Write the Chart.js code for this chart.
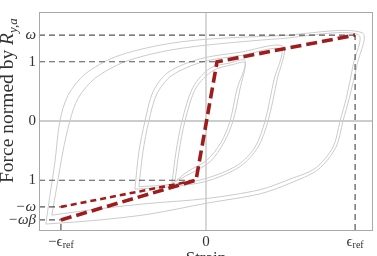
<!DOCTYPE html>
<html>
<head>
<meta charset="utf-8">
<script src="https://cdn.jsdelivr.net/npm/chart.js@4/dist/chart.umd.min.js"></script>
<style>
    html, body { margin: 0; padding: 0; background: #fff; }
    #wrap { width: 377px; height: 256px; position: relative; }
</style>
</head>
<body>
<div id="wrap"><canvas id="hysteresisChart"></canvas></div>
<script>
// Các giá trị đặc trưng (strain đo theo eps_ref, lực chuẩn hoá theo R_y,a)
const OMEGA = 1.45;
const OMEGA_BETA = 1.67;
const EPS_NEG = -0.973;
const EPS_POS = 1.0;
const X_MIN = -1.12, X_MAX = 1.12;
const Y_MIN = -1.84, Y_MAX = 1.84;

const yTickValues = [OMEGA, 1, 0, -1, -OMEGA, -OMEGA_BETA];
const yTickLabels = ['ω', '1', '0', '1', '−ω', '−ωβ'];
const xTickValues = [EPS_NEG, 0, EPS_POS];
const xTickLabels = [['−ϵ', 'ref'], ['0', ''], ['ϵ', 'ref']];

// Vòng trễ đo được
const loopOuterX = [-1.074, -1.047, -1.013, -0.980, -0.926, -0.812, -0.611, -0.309, 0, 0.497, 1.047,
    1.013, 0.960, 0.919, 0.872, 0.752, 0.564, 0.362, 0, -0.376, -0.711, -1.074];
const loopOuterY = [-1.74, -1.26, -0.69, 0, 0.43, 0.79, 1.08, 1.28, 1.38, 1.44, 1.49,
    0.95, 0.38, 0, -0.44, -0.82, -1.05, -1.23, -1.39, -1.57, -1.67, -1.74];

const loopLargeX = [-1.034, -1.0, -0.960, -0.913, -0.859, -0.745, -0.544, -0.275, 0, 0.497, 1.020,
    0.987, 0.940, 0.899, 0.852, 0.732, 0.564, 0.362, 0, -0.376, -0.711, -1.034];
const loopLargeY = [-1.59, -1.10, -0.52, 0, 0.38, 0.72, 1.00, 1.18, 1.28, 1.39, 1.46,
    0.95, 0.38, 0, -0.44, -0.80, -0.98, -1.16, -1.31, -1.39, -1.48, -1.59];

const loopMidX = [-0.477, -0.450, -0.409, -0.356, -0.255, -0.040, 0.228, 0.517,
    0.477, 0.416, 0.349, 0.228, 0, -0.242, -0.477];
const loopMidY = [-1.15, -0.52, 0, 0.49, 0.82, 1.05, 1.16, 1.26,
    0.70, 0, -0.44, -0.77, -1.02, -1.11, -1.15];

const loopMid2X = [-0.450, -0.423, -0.383, -0.329, -0.228, -0.020, 0.242, 0.503,
    0.456, 0.396, 0.329, 0.215, 0, -0.228, -0.450];
const loopMid2Y = [-1.11, -0.52, 0, 0.46, 0.77, 1.00, 1.11, 1.21,
    0.70, 0, -0.44, -0.74, -0.97, -1.07, -1.11];

const loopSmallX = [-0.228, -0.201, -0.161, -0.087, 0.027, 0.161, 0.262,
    0.228, 0.181, 0.121, 0.027, -0.107, -0.228];
const loopSmallY = [-1.05, -0.52, 0, 0.57, 0.89, 0.98, 1.02,
    0.54, 0, -0.36, -0.69, -0.89, -1.05];

const loopSmall2X = [-0.208, -0.181, -0.141, -0.067, 0.047, 0.174, 0.262,
    0.208, 0.161, 0.101, 0.007, -0.121, -0.208];
const loopSmall2Y = [-1.02, -0.52, 0, 0.56, 0.85, 0.95, 0.98,
    0.54, 0, -0.36, -0.66, -0.85, -1.02];

// Mô hình đơn giản hoá (đường đỏ)
const modelX = [EPS_NEG, -0.067, 0.074, EPS_POS];
const modelY = [-OMEGA_BETA, -1, 1, OMEGA];
const modelAltX = [EPS_NEG, -0.067];
const modelAltY = [-OMEGA, -1];

// Đường gióng nét đứt: [x1, y1, x2, y2]
const guideLines = [
    [X_MIN, OMEGA, EPS_POS, OMEGA],
    [X_MIN, 1, 0.074, 1],
    [X_MIN, -1, -0.067, -1],
    [X_MIN, -OMEGA, EPS_NEG, -OMEGA],
    [X_MIN, -OMEGA_BETA, EPS_NEG, -OMEGA_BETA],
    [EPS_NEG, Y_MIN, EPS_NEG, -OMEGA_BETA],
    [EPS_POS, Y_MIN, EPS_POS, OMEGA]
];

const zip = (xs, ys) => xs.map((x, i) => ({ x: x, y: ys[i] }));

function loopSet(xs, ys) {
    return {
        data: zip(xs, ys),
        showLine: true,
        borderColor: '#cbcbcb',
        borderWidth: 1,
        pointRadius: 0,
        tension: 0.3,
        order: 3
    };
}

const datasets = [];

// trục 0
datasets.push({
    data: [{ x: X_MIN, y: 0 }, { x: X_MAX, y: 0 }],
    showLine: true, borderColor: '#9a9a9a', borderWidth: 1, pointRadius: 0, order: 4
});
datasets.push({
    data: [{ x: 0, y: Y_MIN }, { x: 0, y: Y_MAX }],
    showLine: true, borderColor: '#b0b0b0', borderWidth: 1, pointRadius: 0, order: 4
});

datasets.push(loopSet(loopOuterX, loopOuterY));
datasets.push(loopSet(loopLargeX, loopLargeY));
datasets.push(loopSet(loopMidX, loopMidY));
datasets.push(loopSet(loopMid2X, loopMid2Y));
datasets.push(loopSet(loopSmallX, loopSmallY));
datasets.push(loopSet(loopSmall2X, loopSmall2Y));

guideLines.forEach(g => {
    datasets.push({
        data: [{ x: g[0], y: g[1] }, { x: g[2], y: g[3] }],
        showLine: true,
        borderColor: '#555',
        borderWidth: 1.2,
        borderDash: [6, 4],
        pointRadius: 0,
        order: 2
    });
});

datasets.push({
    data: zip(modelAltX, modelAltY),
    showLine: true,
    borderColor: '#9d1c1c',
    borderWidth: 2.6,
    borderDash: [6, 4],
    pointRadius: 0,
    order: 1
});
datasets.push({
    data: zip(modelX, modelY),
    showLine: true,
    borderColor: '#9d1c1c',
    borderWidth: 3.6,
    borderDash: [11, 5],
    pointRadius: 0,
    order: 0
});

const SERIF = "'Liberation Serif', 'DejaVu Serif', serif";

const decorPlugin = {
    id: 'decor',
    afterDraw(chart) {
        const ctx = chart.ctx;
        const area = chart.chartArea;
        const xs = chart.scales.x;
        ctx.save();
        // khung
        ctx.strokeStyle = '#a8a8a8';
        ctx.lineWidth = 1;
        ctx.strokeRect(area.left + 0.5, area.top + 0.5, area.right - area.left - 1, area.bottom - area.top);

        // nhãn trục x
        ctx.fillStyle = '#333';
        ctx.textBaseline = 'alphabetic';
        xTickValues.forEach((v, i) => {
            const px = xs.getPixelForValue(v);
            const main = xTickLabels[i][0], sub = xTickLabels[i][1];
            ctx.font = '15px ' + SERIF;
            const w1 = ctx.measureText(main).width;
            ctx.font = '10px ' + SERIF;
            const w2 = ctx.measureText(sub).width;
            let x0 = px - (w1 + w2) / 2;
            ctx.font = '15px ' + SERIF;
            ctx.textAlign = 'left';
            ctx.fillText(main, x0, 246);
            ctx.font = '10px ' + SERIF;
            ctx.fillText(sub, x0 + w1, 248);
        });

        // tiêu đề trục x (bị cắt ở mép dưới)
        ctx.font = '17px ' + SERIF;
        ctx.textAlign = 'center';
        ctx.textBaseline = 'top';
        ctx.fillText('Strain', xs.getPixelForValue(0), 250);

        // tiêu đề trục y
        ctx.translate(13, 183);
        ctx.rotate(-Math.PI / 2);
        ctx.textAlign = 'left';
        ctx.textBaseline = 'alphabetic';
        ctx.font = '19.5px ' + SERIF;
        const t1 = 'Force normed by ';
        ctx.fillText(t1, 0, 0);
        let off = ctx.measureText(t1).width;
        ctx.font = 'italic 19.5px ' + SERIF;
        ctx.fillText('R', off, 0);
        off += ctx.measureText('R').width;
        ctx.font = 'italic 13px ' + SERIF;
        ctx.fillText('y,a', off, 4);
        ctx.restore();
    }
};

const ctx = document.getElementById('hysteresisChart').getContext('2d');
new Chart(ctx, {
    type: 'scatter',
    data: { datasets: datasets },
    options: {
        responsive: true,
        maintainAspectRatio: false,
        animation: false,
        layout: { padding: { top: 6, right: 4, left: 0, bottom: 0 } },
        plugins: {
            legend: { display: false },
            tooltip: { enabled: false }
        },
        scales: {
            x: {
                type: 'linear',
                min: X_MIN,
                max: X_MAX,
                grid: { display: false, drawTicks: false },
                border: { display: false },
                ticks: { display: false },
                afterFit: scale => { scale.height = 26; }
            },
            y: {
                type: 'linear',
                min: Y_MIN,
                max: Y_MAX,
                grid: { display: false, drawTicks: false },
                border: { display: false },
                afterBuildTicks: scale => {
                    scale.ticks = yTickValues.map(v => ({ value: v }));
                },
                afterFit: scale => { scale.width = 39; },
                ticks: {
                    padding: 3,
                    color: '#333',
                    autoSkip: false,
                    callback: (value, index) => yTickLabels[index],
                    font: c => ({
                        family: SERIF,
                        size: 15,
                        style: yTickLabels[c.index] && yTickLabels[c.index].indexOf('ω') >= 0 ? 'italic' : 'normal'
                    })
                }
            }
        }
    },
    plugins: [decorPlugin]
});
</script>
</body>
</html>
